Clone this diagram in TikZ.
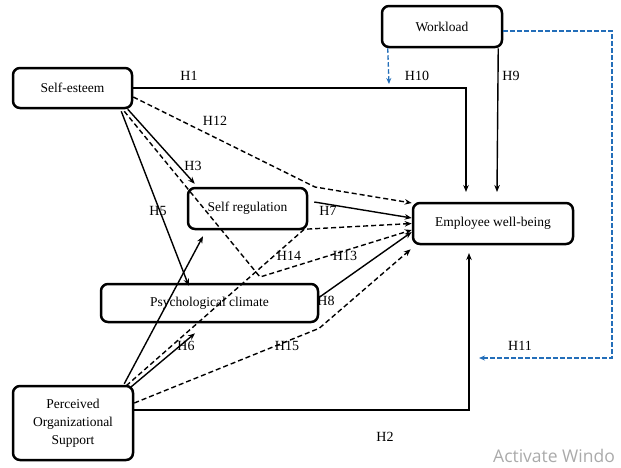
\documentclass[tikz,border=0pt]{standalone}
\usepackage{fontspec}
\setmainfont{Liberation Serif}
\newfontfamily\wmfont{Open Sans}
\usetikzlibrary{arrows.meta}
\definecolor{linkblue}{RGB}{35,110,185}
\definecolor{wmgray}{RGB}{170,170,170}
\begin{document}
\begin{tikzpicture}[x=1pt,y=-1pt,
  box/.style={draw, line width=2.5pt, rounded corners=7pt, inner sep=0pt,
    font=\fontsize{13.5}{18}\selectfont, align=center},
  conn/.style={line width=1.4pt, -{Stealth[length=7pt,width=5.5pt]}},
  dconn/.style={conn, dash pattern=on 5pt off 3pt},
  bconn/.style={line width=1.3pt, linkblue, dash pattern=on 4.5pt off 2.5pt,
    -{Stealth[length=6pt,width=5pt]}},
  lbl/.style={inner sep=0pt, font=\fontsize{14}{16}\selectfont}
]
\useasboundingbox (0,0) rectangle (621,467);

% boxes
\node[box, minimum width=119pt, minimum height=40pt] (se) at (72.5,88) {Self-esteem};
\node[box, minimum width=120pt, minimum height=41pt] (wl) at (442,26.5) {Workload};
\node[box, minimum width=160pt, minimum height=41pt] (ewb) at (493,223.5) {Employee well-being};
\node[box, minimum width=119pt, minimum height=41pt] (sr) at (247.5,208.5) {Self regulation};
\node[box, minimum width=217pt, minimum height=38pt] (pc) at (209.5,303) {Psychological climate};
\node[box, minimum width=120pt, minimum height=74pt] (pos) at (73,423) {Perceived\\Organizational\\Support};

% free ends and bends
\coordinate (h1end) at (466,192);
\coordinate (h10end) at (389,84);
\coordinate (h9end) at (497,192);
\coordinate (h11end) at (479,358);
\coordinate (h2end) at (469,253);
\coordinate (h12bend) at (315,187);
\coordinate (h13bend) at (260,277);

% H1
\draw[conn] (se.east) -| (h1end);
% H10
\draw[bconn] ([xshift=7pt]wl.south west) -- (h10end);
% H9
\draw[conn] ([xshift=-5pt]wl.south east) -- (h9end);
% H11
\draw[bconn] ([yshift=-4.5pt]wl.east) -- (612,31) -- (612,358) -- (h11end);
% H2
\draw[conn] ([yshift=13pt]pos.east) -| (h2end);
% H12
\draw[dconn] ([yshift=-9pt]se.east) -- (h12bend) -- ([yshift=20.5pt]ewb.west);
% H3
\draw[conn] ([xshift=-5.5pt]se.south east) -- ([shift={(8pt,3pt)}]sr.north west);
% H13 path
\draw[dconn] ([shift={(-9pt,-2pt)}]se.south east) -- (h13bend) -- ([yshift=-6.5pt]ewb.west);
% H5
\draw[conn] ([shift={(-12pt,-2pt)}]se.south east) -- ([shift={(89pt,-3pt)}]pc.north west);
% H7
\draw[conn] ([shift={(6pt,6.5pt)}]sr.east) -- ([yshift=5.5pt]ewb.west);
% H14 path
\draw[dconn] ([shift={(-8pt,-1pt)}]pos.north east) -- ([shift={(-4pt,1pt)}]sr.south east) -- (ewb.west);
% POS -> SR
\draw[conn] ([shift={(-10pt,1pt)}]pos.north east) -- ([shift={(-44.5pt,-6pt)}]sr.south);
% H6
\draw[conn] ([shift={(-3pt,-2pt)}]pos.north east) -- ([shift={(-14.5pt,-10pt)}]pc.south);
% H8
\draw[conn] ([shift={(-1pt,5pt)}]pc.east) -- ([yshift=-8.5pt]ewb.west);
% H15 path
\draw[dconn] ([yshift=20pt]pos.east) -- ([yshift=-5pt]pc.south east) -- ([shift={(-1pt,-4pt)}]ewb.south west);

% labels
\node[lbl] (l1) at (189,76) {H1};
\node[lbl] (l12) at (215,121) {H12};
\node[lbl] (l3) at (193,166) {H3};
\node[lbl] (l5) at (158,211) {H5};
\node[lbl] (l10) at (417,76) {H10};
\node[lbl] (l9) at (511,76) {H9};
\node[lbl] (l7) at (328,211) {H7};
\node[lbl] (l14) at (289,256) {H14};
\node[lbl] (l13) at (345,256) {H13};
\node[lbl] (l8) at (326,301) {H8};
\node[lbl] (l6) at (186,346) {H6};
\node[lbl] (l15) at (287,346) {H15};
\node[lbl] (l11) at (520,346) {H11};
\node[lbl] (l2) at (385,437) {H2};

% watermark
\node[anchor=west, inner sep=0pt, text=wmgray, font=\wmfont\fontsize{17.5}{20}\selectfont] (wm) at (493,456) {Activate Windo};
\end{tikzpicture}
\end{document}
